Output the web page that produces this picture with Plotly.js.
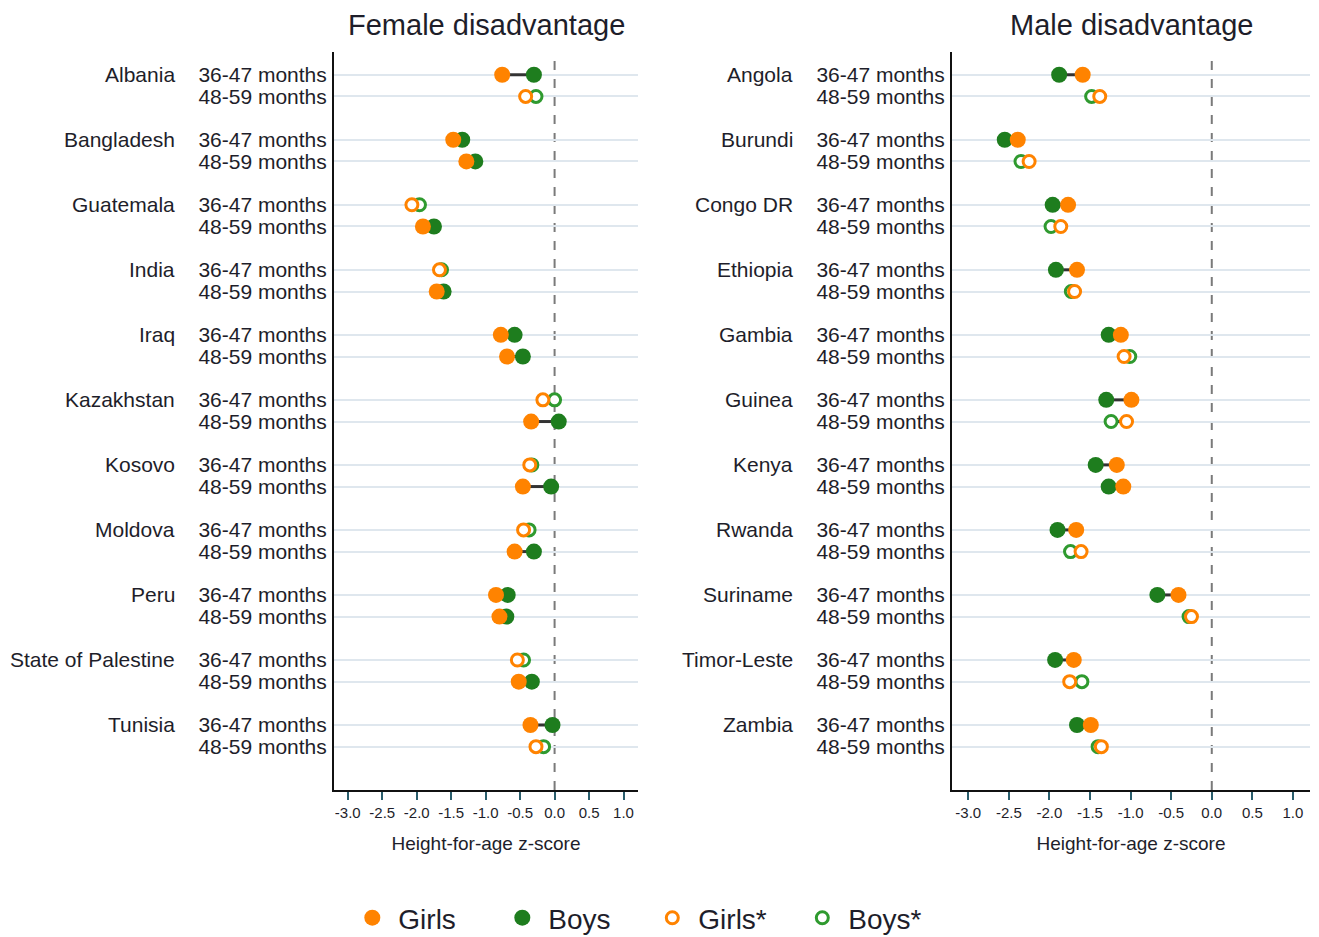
<!DOCTYPE html>
<html>
<head>
<meta charset="utf-8">
<script src="https://cdn.plot.ly/plotly-3.0.1.min.js"></script>
<style>html,body{margin:0;padding:0;background:#fff;}#chart{width:1319px;height:937px;}</style>
</head>
<body>
<div id="chart"></div>
<script>
// ---------- DATA ----------
const ageLabels = ["36-47 months", "48-59 months"];
const xTickVals = [-3, -2.5, -2, -1.5, -1, -0.5, 0, 0.5, 1];
const xTickText = ["-3.0", "-2.5", "-2.0", "-1.5", "-1.0", "-0.5", "0.0", "0.5", "1.0"];

const femaleCountries = ["Albania", "Bangladesh", "Guatemala", "India", "Iraq", "Kazakhstan", "Kosovo", "Moldova", "Peru", "State of Palestine", "Tunisia"];
const femGirls36 = [-0.76, -1.47, -2.07, -1.67, -0.78, -0.17, -0.36, -0.45, -0.85, -0.54, -0.35];
const femBoys36  = [-0.30, -1.34, -1.96, -1.64, -0.58,  0.00, -0.33, -0.37, -0.68, -0.45, -0.03];
const femFilled36 = [1, 1, 0, 0, 1, 0, 0, 0, 1, 0, 1];
const femGirls48 = [-0.42, -1.28, -1.91, -1.71, -0.69, -0.34, -0.46, -0.58, -0.80, -0.52, -0.27];
const femBoys48  = [-0.27, -1.15, -1.75, -1.61, -0.46,  0.06, -0.05, -0.30, -0.70, -0.33, -0.16];
const femFilled48 = [0, 1, 1, 1, 1, 1, 1, 1, 1, 1, 0];

const maleCountries = ["Angola", "Burundi", "Congo DR", "Ethiopia", "Gambia", "Guinea", "Kenya", "Rwanda", "Suriname", "Timor-Leste", "Zambia"];
const maleGirls36 = [-1.59, -2.39, -1.77, -1.66, -1.12, -0.99, -1.17, -1.67, -0.41, -1.70, -1.49];
const maleBoys36  = [-1.88, -2.55, -1.96, -1.92, -1.27, -1.30, -1.43, -1.90, -0.67, -1.93, -1.66];
const maleFilled36 = [1, 1, 1, 1, 1, 1, 1, 1, 1, 1, 1];
const maleGirls48 = [-1.38, -2.25, -1.86, -1.69, -1.08, -1.05, -1.09, -1.61, -0.25, -1.75, -1.36];
const maleBoys48  = [-1.48, -2.35, -1.98, -1.73, -1.01, -1.24, -1.27, -1.74, -0.28, -1.60, -1.40];
const maleFilled48 = [0, 0, 0, 0, 0, 0, 1, 0, 0, 0, 0];

// ---------- STYLE ----------
const ORANGE = "#ff8300";
const GREEN = "#1e7d1e";
const GREEN_OPEN = "#2f9a2f";
const FONT = "Liberation Sans, Arial, sans-serif";
const TXT = "#1e1e2a";

function buildPanel(countries, g36, b36, f36, g48, b48, f48, xa, ya, showLeg) {
  const rows = [];
  countries.forEach((c, i) => {
    rows.push({pos: 3 * i, g: g36[i], b: b36[i], filled: !!f36[i]});
    rows.push({pos: 3 * i + 1, g: g48[i], b: b48[i], filled: !!f48[i]});
  });
  const lx = [], ly = [];
  rows.forEach(r => { lx.push(r.g, r.b, null); ly.push(r.pos, r.pos, null); });
  const traces = [];
  traces.push({type: "scatter", mode: "lines", x: lx, y: ly, xaxis: xa, yaxis: ya,
    line: {color: "#333333", width: 3}, showlegend: false, hoverinfo: "skip"});
  const sel = (filled) => rows.filter(r => r.filled === filled);
  const fr = sel(true), hr = sel(false);
  traces.push({type: "scatter", mode: "markers", name: "Boys", legendrank: 2,
    x: fr.map(r => r.b), y: fr.map(r => r.pos), xaxis: xa, yaxis: ya, showlegend: showLeg,
    marker: {symbol: "circle", size: 16, color: GREEN, line: {width: 0}}});
  traces.push({type: "scatter", mode: "markers", name: "Girls", legendrank: 1,
    x: fr.map(r => r.g), y: fr.map(r => r.pos), xaxis: xa, yaxis: ya, showlegend: showLeg,
    marker: {symbol: "circle", size: 16, color: ORANGE, line: {width: 0}}});
  traces.push({type: "scatter", mode: "markers", name: "Boys*", legendrank: 4,
    x: hr.map(r => r.b), y: hr.map(r => r.pos), xaxis: xa, yaxis: ya, showlegend: showLeg,
    marker: {symbol: "circle", size: 12, color: "#ffffff", line: {width: 3, color: GREEN_OPEN}}});
  traces.push({type: "scatter", mode: "markers", name: "Girls*", legendrank: 3,
    x: hr.map(r => r.g), y: hr.map(r => r.pos), xaxis: xa, yaxis: ya, showlegend: showLeg,
    marker: {symbol: "circle", size: 12, color: "#ffffff", line: {width: 3, color: ORANGE}}});
  return {traces, rows};
}

const left = buildPanel(femaleCountries, femGirls36, femBoys36, femFilled36, femGirls48, femBoys48, femFilled48, "x", "y", true);
const right = buildPanel(maleCountries, maleGirls36, maleBoys36, maleFilled36, maleGirls48, maleBoys48, maleFilled48, "x2", "y2", false);

const W = 1319, H = 937;
const yTop = 1 - 52 / H, yBot = 1 - 790 / H;

function xAxis(domain, anchor) {
  return {domain: domain, anchor: anchor, range: [-3.2, 1.21], showgrid: false, zeroline: false,
    showline: true, linecolor: "#111", linewidth: 2, ticks: "outside", ticklen: 8, tickwidth: 2,
    tickcolor: "#2a5d6c", tickvals: xTickVals, ticktext: xTickText,
    tickfont: {family: FONT, size: 15, color: TXT},
    title: {text: "Height-for-age z-score", font: {family: FONT, size: 19, color: TXT}, standoff: 17},
    fixedrange: true};
}
function yAxis(domain, anchor, rows) {
  return {domain: domain, anchor: anchor, range: [33, -1.05], showgrid: true, gridcolor: "#dfe7ee", gridwidth: 2,
    zeroline: false, showline: true, linecolor: "#111", linewidth: 2, ticks: "",
    tickvals: rows.map(r => r.pos), ticktext: rows.map(r => ageLabels[r.pos % 3]),
    tickfont: {family: FONT, size: 21, color: TXT}, ticklabelstandoff: 1, fixedrange: true};
}

const annotations = [];
femaleCountries.forEach((c, i) => annotations.push({text: c, xref: "paper", yref: "y", x: 177 / W, y: 3 * i,
  xanchor: "right", yanchor: "middle", showarrow: false, font: {family: FONT, size: 21, color: TXT}}));
maleCountries.forEach((c, i) => annotations.push({text: c, xref: "paper", yref: "y2", x: 795 / W, y: 3 * i,
  xanchor: "right", yanchor: "middle", showarrow: false, font: {family: FONT, size: 21, color: TXT}}));
annotations.push({text: "Female disadvantage", xref: "paper", yref: "paper", x: 486 / W, y: 1 - 25 / H,
  xanchor: "center", yanchor: "middle", showarrow: false, font: {family: FONT, size: 29, color: TXT}});
annotations.push({text: "Male disadvantage", xref: "paper", yref: "paper", x: 1131 / W, y: 1 - 25 / H,
  xanchor: "center", yanchor: "middle", showarrow: false, font: {family: FONT, size: 29, color: TXT}});

const shapes = [
  {type: "line", xref: "x", yref: "y domain", x0: 0, x1: 0, y0: 0, y1: 1, line: {color: "#7a7a7a", width: 2, dash: "dash"}, layer: "below"},
  {type: "line", xref: "x2", yref: "y2 domain", x0: 0, x1: 0, y0: 0, y1: 1, line: {color: "#7a7a7a", width: 2, dash: "dash"}, layer: "below"}
];

const layout = {
  width: W, height: H, margin: {l: 0, r: 0, t: 0, b: 0, autoexpand: false},
  paper_bgcolor: "#ffffff", plot_bgcolor: "#ffffff",
  font: {family: FONT, color: TXT},
  xaxis: xAxis([334 / W, 638 / W], "y"),
  yaxis: yAxis([yBot, yTop], "x", left.rows),
  xaxis2: xAxis([952 / W, 1310 / W], "y2"),
  yaxis2: yAxis([yBot, yTop], "x2", right.rows),
  annotations: annotations,
  shapes: shapes,
  showlegend: true,
  legend: {orientation: "h", x: 0.49, xanchor: "center", y: 1 - 918 / H, yanchor: "middle",
    font: {family: FONT, size: 28, color: TXT}, itemwidth: 42, entrywidth: 93, traceorder: "normal",
    bgcolor: "rgba(0,0,0,0)"}
};

Plotly.newPlot("chart", left.traces.concat(right.traces), layout, {displayModeBar: false, staticPlot: true});
</script>
</body>
</html>
